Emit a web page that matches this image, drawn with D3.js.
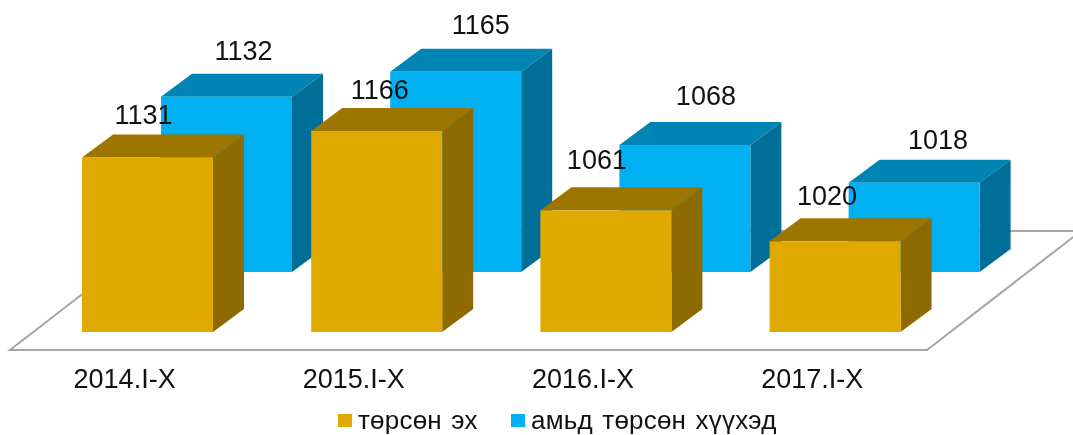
<!DOCTYPE html>
<html>
<head>
<meta charset="utf-8">
<script src="https://cdn.jsdelivr.net/npm/d3@7"></script>
<style>
  html, body { margin: 0; padding: 0; background: #fff; }
  text { font-family: "Liberation Sans", Arial, sans-serif; fill: #111; }
  .domain, .tick line { display: none; }
  /* the reference is a slightly soft upscaled image */
  svg { filter: blur(0.4px); }
</style>
</head>
<body>
<div id="container"></div>
<script>
const categories = ['2014.I-X', '2015.I-X', '2016.I-X', '2017.I-X'];
const mothers = [1131, 1166, 1061, 1020];
const children = [1132, 1165, 1068, 1018];
const seriesNames = ['төрсөн эх', 'амьд төрсөн хүүхэд'];

// the value labels were dragged by hand in the original, so they sit unevenly
const motherNudge = [[-4, 2], [3, 3], [-9, -6], [-8, -1]];
const childNudge = [[-4, -2], [4, -3], [0, -5], [3, 1]];

const svgWidth = 1073;
const svgHeight = 435;
const baseY = 332;
const barWidth = 131;
const depthX = 31;
const depthY = 23;
const rowX = 79;   // back row offset
const rowY = 60;

const colors = {
  gold: { front: '#e0a900', top: '#9c7600', side: '#8e6b00' },
  blue: { front: '#00b0f0', top: '#0084b4', side: '#006f97' }
};

const xScale = d3.scaleBand()
  .domain(categories)
  .range([82, 82 + 229.2 * 4])
  .paddingInner(0)
  .paddingOuter(0);

const yScale = d3.scaleLinear()
  .domain([900, 1166])
  .range([baseY, 131]);

const svg = d3.select('#container')
  .append('svg')
  .attr('width', svgWidth)
  .attr('height', svgHeight)
  .style('display', 'block');

// floor of the 3d plot
svg.append('path')
  .attr('d', 'M10,350 L927,350 L1081,231 L164,231 Z')
  .attr('fill', '#fff')
  .attr('stroke', '#a6a6a6')
  .attr('stroke-width', 2);

function drawBars(values, palette, dx, dy) {
  const g = svg.append('g').attr('transform', `translate(${dx},${-dy})`);
  const bar = g.selectAll('g')
    .data(values)
    .enter()
    .append('g');

  const left = (d, i) => xScale(categories[i]);
  const right = (d, i) => left(d, i) + barWidth;

  bar.append('path')
    .attr('fill', palette.top)
    .attr('d', (d, i) => `M${left(d, i)},${yScale(d)} l${depthX},${-depthY} h${barWidth} l${-depthX},${depthY} Z`);

  bar.append('path')
    .attr('fill', palette.side)
    .attr('d', (d, i) => `M${right(d, i)},${yScale(d)} l${depthX},${-depthY} V${baseY - depthY} l${-depthX},${depthY} Z`);

  bar.append('rect')
    .attr('fill', palette.front)
    .attr('x', left)
    .attr('y', (d) => yScale(d))
    .attr('width', barWidth)
    .attr('height', (d) => baseY - yScale(d));
}

drawBars(children, colors.blue, rowX, rowY);
drawBars(mothers, colors.gold, 0, 0);

function drawLabels(values, nudge, dx, dy) {
  svg.append('g')
    .selectAll('text')
    .data(values)
    .enter()
    .append('text')
    .attr('x', (d, i) => xScale(categories[i]) + dx + barWidth / 2 + nudge[i][0])
    .attr('y', (d, i) => yScale(d) - dy - 35 + nudge[i][1])
    .attr('text-anchor', 'middle')
    .style('font-size', '27px')
    .text((d) => d);
}

drawLabels(mothers, motherNudge, 0, 0);
drawLabels(children, childNudge, rowX + 21, rowY);

// category labels
const xAxis = d3.axisBottom(xScale).tickSize(0).tickPadding(0);

svg.append('g')
  .attr('id', 'x-axis')
  .attr('transform', 'translate(-72, 369)')
  .call(xAxis)
  .call((g) => g.selectAll('text')
    .style('font-size', '27px')
    .style('font-family', '"Liberation Sans", Arial, sans-serif')
    .style('fill', '#111'));

// legend
const legendItems = [
  { name: seriesNames[0], color: colors.gold.front, x: 338 },
  { name: seriesNames[1], color: colors.blue.front, x: 511 }
];

const legend = svg.append('g').attr('id', 'legend')
  .selectAll('g')
  .data(legendItems)
  .enter()
  .append('g')
  .attr('transform', (d) => `translate(${d.x},414)`);

legend.append('rect')
  .attr('width', 14)
  .attr('height', 13)
  .attr('fill', (d) => d.color);

legend.append('text')
  .attr('x', 20)
  .attr('y', 15)
  .style('font-size', '26px')
  .style('letter-spacing', '0.2px')
  .style('word-spacing', '2px')
  .text((d) => d.name);
</script>
</body>
</html>
